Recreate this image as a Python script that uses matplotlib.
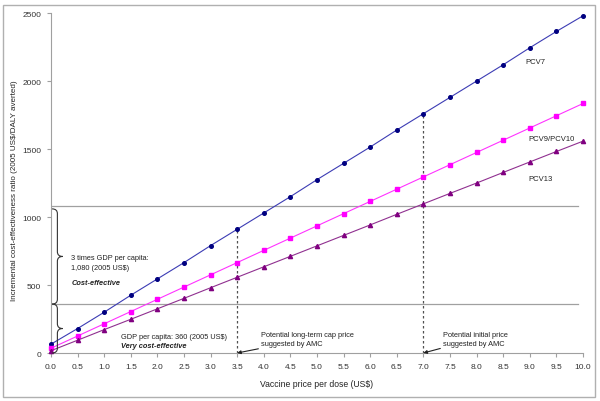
import matplotlib.pyplot as plt
import matplotlib.patches as mpatches
from matplotlib.path import Path
import numpy as np

plt.rcParams['font.family'] = ['Liberation Sans', 'DejaVu Sans']

price = [0.0, 0.5, 1.0, 1.5, 2.0, 2.5, 3.0, 3.5, 4.0, 4.5, 5.0,
         5.5, 6.0, 6.5, 7.0, 7.5, 8.0, 8.5, 9.0, 9.5, 10.0]
pcv7 = [65, 180, 300, 425, 545, 665, 790, 910, 1030, 1150, 1275,
        1395, 1515, 1640, 1760, 1880, 2000, 2120, 2245, 2365, 2480]
pcv9_10 = [35, 125, 215, 305, 395, 485, 575, 665, 755, 845, 935,
           1025, 1115, 1205, 1295, 1385, 1475, 1565, 1655, 1745, 1835]
pcv13 = [17, 94, 172, 248, 325, 402, 480, 557, 634, 711, 788,
         865, 942, 1020, 1097, 1174, 1250, 1328, 1405, 1482, 1558]

gdp = 360
gdp3 = 1080
amc_cap = 3.5
amc_initial = 7.0

txt = '#222222'
fs = 5.3

fig = plt.figure(figsize=(6, 4.02), dpi=100)
fig.patches.append(mpatches.Rectangle((0.005, 0.01), 0.987, 0.976, transform=fig.transFigure,
                                      fill=False, edgecolor='#b0b0b0', lw=1))
ax = fig.add_axes([0.085, 0.1194, 0.8867, 0.8456])

ax.plot(price, pcv7, color='#3c3cb4', lw=0.8, marker='o', ms=2.6,
        mfc='#000080', mec='#000080', clip_on=False, zorder=4)
ax.plot(price, pcv9_10, color='#ff33ff', lw=0.8, marker='s', ms=2.6,
        mfc='#ff00ff', mec='#ff00ff', clip_on=False, zorder=4)
ax.plot(price, pcv13, color='#903090', lw=0.8, marker='^', ms=3,
        mfc='#800080', mec='#800080', clip_on=False, zorder=4)

ax.axhline(gdp3, color='#a0a0a0', lw=0.9, xmax=0.99)
ax.axhline(gdp, color='#a0a0a0', lw=0.9, xmax=0.99)

for xp in [amc_cap, amc_initial]:
    ax.plot([xp, xp], [0, np.interp(xp, price, pcv7)], color='#505050',
            lw=0.9, ls=(0, (2, 2)))

ax.set_xlim(0, 10)
ax.set_ylim(0, 2500)
ax.set_xticks(np.arange(0, 10.01, 0.5))
ax.set_xticklabels(['%.1f' % v for v in np.arange(0, 10.01, 0.5)])
ax.set_yticks(range(0, 2501, 500))
for s in ['top', 'right']:
    ax.spines[s].set_visible(False)
for s in ['left', 'bottom']:
    ax.spines[s].set_color('#a0a0a0')
ax.tick_params(direction='out', length=3, width=0.8, color='#a0a0a0',
               labelsize=6, labelcolor='#333333', pad=4)
ax.set_xlabel('Vaccine price per dose (US$)', fontsize=6.2, color=txt, labelpad=7)
fig.text(15 / 600, 0.525, 'Incremental cost-effectiveness ratio (2005 US$/DALY averted)',
         fontsize=5.8, color=txt, rotation=90, ha='center', va='center')


def brace(ax, x, y0, y1, w, d=35, color='#333333'):
    # curly brace with its tip pointing right
    xs = x + w / 2
    ym = (y0 + y1) / 2
    verts = [(x, y1), (xs, y1), (xs, y1 - d),
             (xs, ym + d),
             (xs, ym), (x + w, ym),
             (xs, ym), (xs, ym - d),
             (xs, y0 + d),
             (xs, y0), (x, y0)]
    codes = [Path.MOVETO, Path.CURVE3, Path.CURVE3,
             Path.LINETO,
             Path.CURVE3, Path.CURVE3,
             Path.CURVE3, Path.CURVE3,
             Path.LINETO,
             Path.CURVE3, Path.CURVE3]
    ax.add_patch(mpatches.PathPatch(Path(verts, codes), fill=False, edgecolor=color,
                                    lw=0.8, clip_on=False, zorder=5))


brace(ax, 0.02, gdp, gdp3 - 20, 0.2)
brace(ax, 0.02, 0, gdp, 0.2)

ax.text(0.38, 665, '3 times GDP per capita:\n1,080 (2005 US$)', fontsize=fs,
        color=txt, va='center', linespacing=1.55)
ax.text(0.38, 522, 'Cost-effective', fontsize=fs, color=txt,
        fontweight='bold', style='italic', va='center')
ax.text(1.32, 118, 'GDP per capita: 360 (2005 US$)', fontsize=fs,
        color=txt, va='center')
ax.text(1.32, 52, 'Very cost-effective', fontsize=fs, color=txt,
        fontweight='bold', style='italic', va='center')

for xp, label, xt in [(amc_cap, 'Potential long-term cap price\nsuggested by AMC', 3.95),
                      (amc_initial, 'Potential initial price\nsuggested by AMC', 7.37)]:
    ax.annotate(label, xy=(xp, 0), xytext=(xt, 103), fontsize=fs, color=txt,
                va='center', linespacing=1.5,
                arrowprops=dict(arrowstyle='-|>', color=txt, lw=0.8,
                                mutation_scale=5, shrinkA=0, shrinkB=0))

ax.text(8.91, 2147, 'PCV7', fontsize=5.5, color=txt, va='center')
ax.text(8.98, 1580, 'PCV9/PCV10', fontsize=5.5, color=txt, va='center')
ax.text(8.98, 1280, 'PCV13', fontsize=5.5, color=txt, va='center')

fig.savefig('out.png', dpi=100)
